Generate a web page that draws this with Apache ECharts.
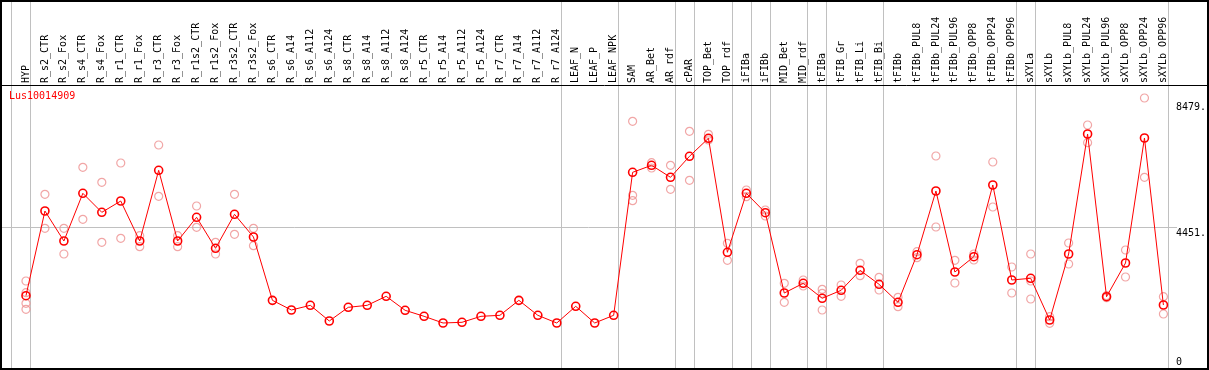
<!DOCTYPE html>
<html>
<head>
<meta charset="utf-8">
<script src="https://cdn.jsdelivr.net/npm/echarts@6/dist/echarts.min.js"></script>
<style>
html,body{margin:0;padding:0;background:#fff;}
#chart{width:1209px;height:370px;}
</style>
</head>
<body>
<div id="chart"></div>
<script>
const chartTitle = 'Lus10014909';
const categories = ['HYP','R_s2_CTR','R_s2_Fox','R_s4_CTR','R_s4_Fox','R_r1_CTR','R_r1_Fox','R_r3_CTR','R_r3_Fox','R_r1s2_CTR','R_r1s2_Fox','R_r3s2_CTR','R_r3s2_Fox','R_s6_CTR','R_s6_A14','R_s6_A112','R_s6_A124','R_s8_CTR','R_s8_A14','R_s8_A112','R_s8_A124','R_r5_CTR','R_r5_A14','R_r5_A112','R_r5_A124','R_r7_CTR','R_r7_A14','R_r7_A112','R_r7_A124','LEAF_N','LEAF_P','LEAF_NPK','SAM','AR_Bet','AR_rdf','cPAR','TOP_Bet','TOP_rdf','iFIBa','iFIBb','MID_Bet','MID_rdf','tFIBa','tFIB_Gr','tFIB_Li','tFIB_Bi','tFIBb','tFIBb_PUL8','tFIBb_PUL24','tFIBb_PUL96','tFIBb_OPP8','tFIBb_OPP24','tFIBb_OPP96','sXYLa','sXYLb','sXYLb_PUL8','sXYLb_PUL24','sXYLb_PUL96','sXYLb_OPP8','sXYLb_OPP24','sXYLb_OPP96'];
const means = [2283,4995,4035,5562,4953,5315,4035,6298,4035,4793,3801,4889,4163,2135,1825,1975,1473,1911,1975,2264,1815,1623,1409,1431,1623,1655,2135,1655,1409,1943,1409,1655,6234,6458,6074,6747,7323,3673,5562,4941,2369,2680,2200,2456,3096,2648,2072,3596,5636,3042,3532,5828,2786,2840,1505,3618,7461,2251,3330,7333,1985];
const replicates = [
  [2754,2379,2040,1848],[5530,4441],[4441,3618],[6394,4729],[5914,3993],[6532,4121],[4204,3852],[7108,5466],[4204,3852],[5155,4473],[3993,3618],[5530,4249],[4441,3884],
  [],[],[],[],[],[],[],[],[],[],[],[],[],[],[],[],[],[],[],
  [7867,5498,5325],[6543,6372],[6458,5690],[7547,5978],[7451,7269],[3961,3416],[5668,5453],[5027,4835],[2680,2072],[2786,2594],[2488,2360,1825],[2626,2264],[3320,2923],[2872,2466],[2232,1931],[3692,3500],[6756,4483],[3416,2690],[3618,3426],[6564,5123],[3202,2370],[3618,2754,2177],[1611,1399],[3970,3298],[7749,7182],[2283,2219],[3746,2882],[8613,6074],[2251,1697]
];
const groupEnds = [-1,0,28,31,34,35,37,38,39,41,42,45,52,53,60];
const yTickLabels = [4451, 8479];
const yZeroLabel = [0];
const yMax = 9030;

const repData = [];
replicates.forEach((arr, i) => arr.forEach(v => repData.push([i, v])));

const mono = 'DejaVu Sans Mono';
const chart = echarts.init(document.getElementById('chart'), null, {renderer:'canvas'});
chart.setOption({
  animation: false,
  backgroundColor: '#fff',
  title: {text: chartTitle, left: 9, top: 91, padding: 0,
    textStyle: {color: '#ff0000', fontSize: 10, fontFamily: mono, fontWeight: 'normal'}},
  grid: {left: 16.5, top: 85, width: 1159, height: 282, containLabel: false},
  xAxis: {
    type: 'category', data: categories, position: 'top', boundaryGap: true,
    axisLine: {show: false}, axisTick: {show: false}, splitLine: {show: false},
    axisLabel: {rotate: 90, interval: 0, margin: 2, fontSize: 10, fontFamily: mono, color: '#000'}
  },
  yAxis: [{
    type: 'value', position: 'right', min: 0, max: yMax,
    axisLine: {show: false}, axisTick: {show: false}, splitLine: {show: false},
    axisLabel: {customValues: yTickLabels, formatter: v => v + '.', verticalAlign: 'top', align: 'left', margin: 3,
      fontSize: 10, fontFamily: mono, color: '#000'}
  }, {
    type: 'value', position: 'right', min: 0, max: yMax,
    axisLine: {show: false}, axisTick: {show: false}, splitLine: {show: false},
    axisLabel: {customValues: yZeroLabel, formatter: v => String(v), verticalAlign: 'bottom', align: 'left', margin: 3,
      fontSize: 10, fontFamily: mono, color: '#000'}
  }],
  graphic: [
    {type: 'rect', shape: {x: 1, y: 1, width: 1207, height: 368}, style: {fill: 'none', stroke: '#000', lineWidth: 2}, z: 100, silent: true},
    {type: 'line', shape: {x1: 0, y1: 85.5, x2: 1209, y2: 85.5}, style: {stroke: '#000', lineWidth: 1}, z: 100, silent: true}
  ],
  series: [
    {
      type: 'custom', name: 'gridlines', silent: true, clip: false, z: 1,
      data: [[0, yTickLabels[0]]],
      renderItem: function (params, api) {
        const c0 = api.coord([0, api.value(1)]);
        const bw = api.size([1, 0])[0];
        const children = groupEnds.map(function (i) {
          const x = Math.floor(c0[0] + (i + 0.25) * bw) + 0.5;
          return {type: 'line', shape: {x1: x, y1: 0, x2: x, y2: 369}, style: {stroke: '#c0c0c0', lineWidth: 1}};
        });
        const y = Math.floor(c0[1]) + 0.5;
        children.push({type: 'line', shape: {x1: 0, y1: y, x2: 1177, y2: y}, style: {stroke: '#c0c0c0', lineWidth: 1}});
        return {type: 'group', children: children};
      }
    },
    {
      type: 'scatter', name: 'replicates', data: repData, z: 2,
      symbol: 'circle', symbolSize: 8,
      itemStyle: {color: 'rgba(0,0,0,0)', borderColor: '#ee9090', borderWidth: 1.2}
    },
    {
      type: 'line', name: 'mean', data: means, z: 3,
      symbol: 'circle', symbolSize: 8, showAllSymbol: true,
      lineStyle: {color: '#ff0000', width: 1},
      itemStyle: {color: 'rgba(0,0,0,0)', borderColor: '#ff0000', borderWidth: 1.6}
    }
  ]
});
</script>
</body>
</html>
